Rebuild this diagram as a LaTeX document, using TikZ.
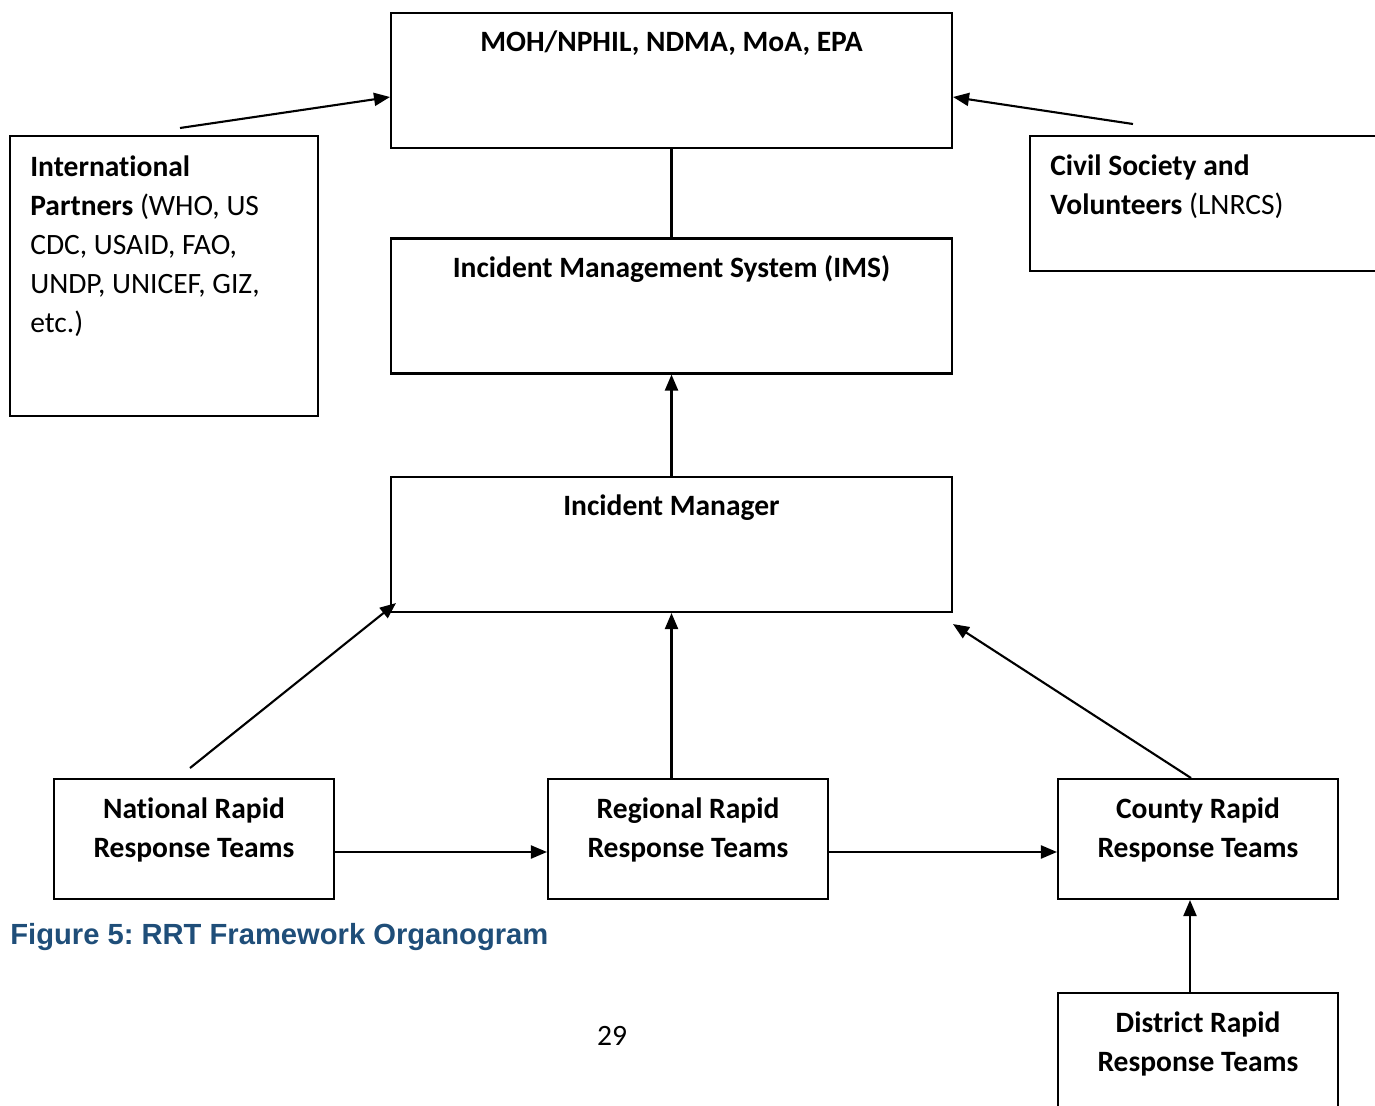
\documentclass[tikz,border=0pt]{standalone}
\usepackage{fontspec}
\setmainfont{Carlito}[Ligatures=NoCommon]
\newfontfamily\capfont{Liberation Sans}
\usepackage{xcolor}
\usetikzlibrary{
  arrows.meta,
  positioning,
  calc
}
\definecolor{capblue}{HTML}{1F4E79}
\frenchspacing

\begin{document}
\begin{tikzpicture}[
    x=0.02cm, y=-0.02cm,
    box/.style={draw, line width=1.2pt, inner sep=0pt},
    unit/.style={box, minimum width=11.22cm, minimum height=2.7cm},
    team/.style={box, minimum width=5.6cm, minimum height=2.4cm},
    txt/.style={font=\fontsize{16.8}{22.2}\selectfont\bfseries, align=center,
                inner sep=0pt, anchor=base},
    arr/.style={-{Triangle[length=0.32cm,width=0.26cm]}, line width=1.2pt},
    ln/.style={line width=1.2pt}
  ]
    \clip (0,0) rectangle (1375,1105);
    % top level
    \node[unit] (moh) at (671.5,80.5) {};
    \node[txt, yshift=-0.8cm] (mohT) at (moh.north) {MOH/NPHIL, NDMA, MoA, EPA};
    \node[box, minimum width=6.16cm, minimum height=5.6cm] (intl) at (164,276) {};
    \node[txt, align=left, anchor=base west, yshift=-3.96cm] (intlT)
      at ([xshift=0.42cm]intl.north west)
      {International\\ Partners \mdseries(WHO, US\\ \mdseries CDC, USAID, FAO,\\
       \mdseries UNDP, UNICEF, GIZ,\\ \mdseries etc.)};
    \node[box, minimum width=7.4cm, minimum height=2.7cm] (civil) at (1215,203.5) {};
    \node[txt, align=left, anchor=base west, yshift=-1.6cm] (civilT)
      at ([xshift=0.42cm]civil.north west)
      {Civil Society and\\ Volunteers \mdseries(LNRCS)};
    \node[unit] (ims) at (671.5,306) {};
    \node[txt, yshift=-0.8cm] (imsT) at (ims.north) {Incident Management System (IMS)};
    \node[unit] (mgr) at (671.5,544.5) {};
    \node[txt, yshift=-0.8cm] (mgrT) at (mgr.north) {Incident Manager};
    % response teams
    \node[team] (nat) at (194,839) {};
    \node[txt, yshift=-1.6cm] (natT) at (nat.north) {National Rapid\\ Response Teams};
    \node[team] (reg) at (688,839) {};
    \node[txt, yshift=-1.6cm] (regT) at (reg.north) {Regional Rapid\\ Response Teams};
    \node[team] (cty) at (1198,839) {};
    \node[txt, yshift=-1.6cm] (ctyT) at (cty.north) {County Rapid\\ Response Teams};
    \node[team] (dist) at (1198,1053) {};
    \node[txt, yshift=-1.6cm] (distT) at (dist.north) {District Rapid\\ Response Teams};
    \node[anchor=base west, inner sep=0pt, text=capblue,
          font=\capfont\bfseries\fontsize{16.6}{19}\selectfont] (cap) at (10,944)
      {Figure 5: RRT Framework Organogram};
    \node[inner sep=0pt, font=\fontsize{16.8}{22}\selectfont] (page) at (612,1036) {29};

    \coordinate (intlTop) at (180,128);
    \coordinate (civilTop) at (1133,124);
    \coordinate (natTop) at (190,768);
    \coordinate (ctyTop) at (1191,778);
    \draw[arr] (intlTop) -- ([yshift=-0.33cm]moh.west);
    \draw[arr] (civilTop) -- ([yshift=-0.33cm]moh.east);
    \draw[ln] (moh.south) -- (ims.north);
    \draw[arr] (mgr.north) -- (ims.south);
    \draw[arr] (natTop) -- ([shift={(0.12cm,0.2cm)}]mgr.south west);
    \draw[arr] (mgr.south |- reg.north) -- (mgr.south);
    \draw[arr] (ctyTop) -- ([yshift=-0.22cm]mgr.south east);
    \draw[arr] ([yshift=-0.26cm]nat.east) -- ([yshift=-0.26cm]reg.west);
    \draw[arr] ([yshift=-0.26cm]reg.east) -- ([yshift=-0.26cm]cty.west);
    \draw[arr] ([xshift=-0.16cm]dist.north) -- ([xshift=-0.16cm]cty.south);
\end{tikzpicture}
\end{document}
